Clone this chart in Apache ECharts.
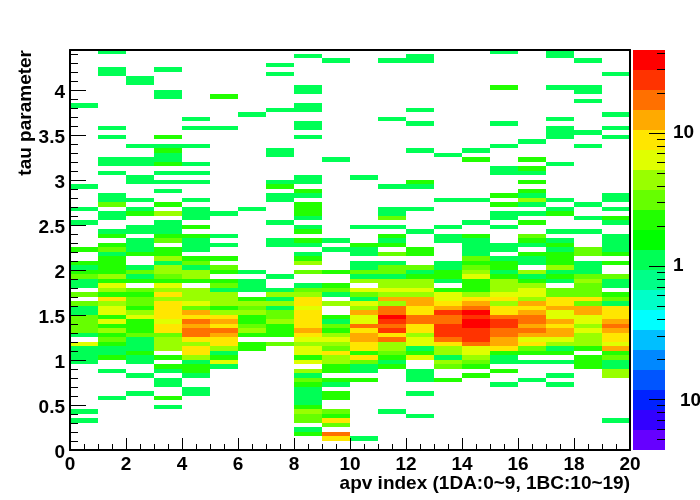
<!DOCTYPE html>
<html><head><meta charset="utf-8">
<style>html,body{margin:0;padding:0;background:#fff}#c{width:700px;height:500px}</style>
<script src="https://cdn.jsdelivr.net/npm/echarts@6/dist/echarts.min.js"></script>
</head><body><div id="c"></div>
<script>
// Each column: [tau bin index, count] pairs; tau bin width = yBinWidth
const col00=[[6,1],[8,1],[19,1],[20,1],[21,1],[22,1],[23,6],[25,1],[26,3],[27,3],[28,3],[29,3],[30,1],[31,1],[32,3],[34,3],[36,1],[37,1],[38,3],[39,2],[40,1],[41,2],[44,2],[50,1],[53,1],[58,1],[76,1]];
const col01=[[11,1],[17,1],[20,2],[21,1],[22,1],[23,2],[24,3],[25,2],[26,4],[27,2],[28,6],[29,2],[30,6],[31,6],[32,4],[33,9],[34,2],[35,4],[36,6],[37,2],[38,4],[39,2],[40,2],[41,2],[42,2],[43,1],[44,3],[45,2],[47,2],[48,1],[51,1],[52,1],[54,3],[55,1],[56,1],[61,1],[63,1],[64,1],[69,1],[71,1],[83,1],[84,1],[88,1]];
const col02=[[12,1],[16,1],[19,1],[20,1],[21,2],[22,1],[23,1],[24,1],[25,3],[26,2],[27,2],[28,2],[29,6],[30,4],[31,2],[32,3],[33,3],[34,2],[35,3],[37,2],[38,1],[39,3],[40,1],[43,2],[44,1],[45,1],[46,1],[48,1],[49,1],[52,2],[53,1],[55,1],[59,1],[60,1],[63,1],[64,1],[67,1],[81,1],[82,1]];
const col03=[[9,1],[11,2],[14,1],[15,1],[17,1],[18,2],[20,2],[22,4],[23,4],[24,4],[25,3],[26,9],[27,9],[28,6],[29,9],[30,9],[31,9],[32,9],[33,4],[34,9],[35,4],[36,6],[37,2],[38,3],[39,4],[40,4],[41,1],[42,4],[43,2],[44,2],[46,3],[47,2],[48,1],[49,1],[50,1],[52,4],[54,2],[57,1],[59,1],[61,1],[63,2],[64,1],[65,1],[66,2],[67,1],[69,2],[78,1],[79,1],[84,1]];
const col04=[[12,1],[13,1],[16,1],[17,2],[18,2],[19,1],[20,4],[21,9],[22,9],[23,4],[24,9],[25,17],[26,17],[27,12],[28,17],[29,9],[30,12],[31,3],[32,6],[33,4],[34,4],[35,4],[37,2],[38,4],[39,4],[40,1],[41,3],[42,2],[44,1],[45,1],[46,1],[47,2],[49,2],[51,1],[52,1],[53,1],[55,1],[59,1],[61,1],[63,1],[67,1],[71,1],[73,1]];
const col05=[[18,1],[19,6],[20,2],[21,1],[22,4],[23,9],[24,9],[25,12],[26,17],[27,9],[28,12],[29,9],[30,4],[31,2],[32,4],[33,4],[34,4],[35,1],[36,3],[37,2],[39,2],[40,3],[42,2],[45,1],[47,1],[52,1],[71,1],[78,2]];
const col06=[[22,2],[23,2],[25,2],[26,4],[27,3],[28,2],[29,2],[30,4],[31,3],[32,4],[33,2],[35,1],[36,1],[37,1],[39,1],[53,1],[74,1]];
const col07=[[23,3],[25,2],[26,2],[27,2],[28,4],[29,3],[30,3],[31,1],[32,4],[33,1],[34,4],[35,1],[38,1],[45,1],[46,1],[50,1],[55,1],[56,1],[58,2],[59,1],[65,1],[66,1],[75,1],[83,1],[85,1]];
const col08=[[3,2],[4,1],[6,3],[7,3],[8,4],[9,2],[10,1],[11,1],[12,1],[13,1],[14,2],[15,3],[16,1],[17,4],[19,6],[20,2],[21,6],[22,6],[23,4],[24,6],[25,9],[26,12],[27,9],[28,9],[29,9],[30,9],[31,6],[32,9],[33,9],[34,4],[35,3],[36,1],[39,3],[41,4],[42,2],[43,1],[45,1],[46,2],[48,2],[49,1],[51,1],[52,2],[53,2],[54,2],[56,1],[57,2],[59,1],[60,1],[69,1],[71,1],[72,1],[75,1],[76,1],[79,1],[80,1],[87,1]];
const col09=[[2,9],[3,17],[5,3],[6,9],[7,2],[8,3],[11,2],[12,2],[14,1],[15,2],[17,2],[18,2],[19,4],[20,4],[21,9],[22,3],[23,4],[24,6],[25,4],[26,2],[27,3],[28,1],[29,2],[32,4],[34,1],[35,3],[36,2],[39,2],[44,1],[46,1],[64,1],[86,1]];
const col10=[[2,1],[15,2],[17,1],[18,1],[19,3],[20,9],[21,2],[22,9],[23,9],[24,12],[25,12],[26,9],[27,17],[28,6],[29,6],[30,12],[31,4],[32,6],[33,1],[34,3],[35,6],[37,4],[38,1],[39,3],[40,1],[41,1],[43,1],[44,1],[45,2],[49,1],[60,1]];
const col11=[[8,1],[18,2],[19,1],[20,2],[21,3],[22,4],[23,4],[24,17],[25,9],[26,24],[27,17],[28,24],[29,32],[30,17],[31,17],[32,4],[33,12],[34,4],[35,6],[36,4],[37,4],[38,1],[39,3],[40,3],[41,1],[43,3],[45,2],[46,1],[47,2],[49,1],[51,3],[52,1],[53,1],[58,1],[73,1],[86,1]];
const col12=[[7,1],[12,1],[15,1],[16,1],[17,1],[20,6],[21,2],[22,1],[23,6],[24,6],[25,4],[26,9],[27,9],[28,17],[29,17],[30,9],[31,9],[32,12],[33,12],[34,4],[35,6],[36,4],[37,4],[38,2],[39,1],[40,3],[43,2],[44,2],[48,1],[53,1],[58,1],[59,2],[66,1],[72,1],[75,1],[86,1],[87,1]];
const col13=[[15,2],[18,3],[19,4],[20,1],[21,4],[22,4],[23,9],[24,17],[25,24],[26,24],[27,24],[28,17],[29,17],[30,24],[31,12],[32,9],[33,6],[34,6],[35,2],[37,1],[38,2],[39,2],[40,1],[41,1],[46,1],[47,1],[49,1],[55,1],[65,1]];
const col14=[[16,2],[18,2],[19,3],[20,4],[21,6],[22,6],[23,17],[24,24],[25,24],[26,24],[27,32],[28,32],[29,24],[30,32],[31,17],[32,12],[33,9],[34,4],[35,2],[36,2],[37,2],[38,6],[39,4],[40,3],[41,2],[42,3],[43,1],[44,1],[45,1],[46,1],[47,2],[50,1],[55,1],[64,2],[66,1]];
const col15=[[14,1],[17,2],[19,1],[20,1],[21,2],[22,9],[23,12],[24,12],[25,17],[26,17],[27,24],[28,24],[29,17],[30,9],[31,9],[32,4],[33,9],[34,6],[35,4],[36,4],[37,4],[38,2],[39,1],[40,2],[41,2],[42,1],[44,1],[45,1],[49,1],[51,1],[52,1],[54,2],[56,2],[61,1],[62,1],[67,1],[72,1],[80,2],[88,1]];
const col16=[[15,1],[19,1],[21,2],[22,3],[23,9],[24,6],[25,12],[26,17],[27,12],[28,17],[29,17],[30,12],[31,9],[32,12],[33,4],[34,6],[35,6],[36,4],[37,2],[38,1],[39,4],[41,1],[42,1],[43,2],[45,1],[46,2],[47,3],[50,2],[52,1],[54,1],[55,4],[56,1],[57,2],[59,2],[61,1],[62,2],[64,2],[68,1]];
const col17=[[14,1],[16,1],[19,1],[21,2],[22,1],[23,4],[24,6],[25,12],[26,12],[27,9],[28,12],[29,6],[30,6],[31,12],[32,9],[33,9],[34,3],[35,3],[37,1],[38,2],[39,1],[40,4],[41,2],[42,2],[43,2],[44,1],[45,2],[46,1],[48,1],[52,2],[53,1],[55,1],[63,1],[69,1],[70,1],[71,1],[73,1],[80,1],[87,1],[88,1]];
const col18=[[18,2],[19,2],[20,2],[22,2],[23,4],[24,4],[25,4],[26,6],[27,4],[28,6],[29,6],[30,12],[31,12],[32,3],[33,9],[34,3],[35,3],[36,3],[37,4],[38,3],[39,1],[40,1],[41,1],[43,3],[44,3],[48,1],[51,1],[54,1],[67,1],[70,1],[77,1],[79,1],[80,1],[86,1]];
const col19=[[6,1],[16,4],[17,4],[18,1],[19,1],[20,3],[21,2],[22,12],[23,6],[24,9],[25,9],[26,12],[27,17],[28,12],[29,9],[30,9],[31,9],[32,1],[33,3],[34,2],[36,1],[37,1],[38,3],[41,2],[43,2],[44,1],[45,1],[46,1],[47,1],[50,1],[51,2],[53,1],[55,1],[56,1],[69,1],[71,1],[74,1],[83,1]];
const columns=[col00,col01,col02,col03,col04,col05,col06,col07,col08,col09,col10,col11,col12,col13,col14,col15,col16,col17,col18,col19];
const yBinWidth=0.05;
const yMax=4.444;

const xName='apv index (1DA:0~9, 1BC:10~19)';
const yName='tau parameter';
const yMajorTicks=[0,0.5,1,1.5,2,2.5,3,3.5,4];
const yMinorTicks=[0.1,0.2,0.3,0.4,0.6,0.7,0.8,0.9,1.1,1.2,1.3,1.4,1.6,1.7,1.8,1.9,2.1,2.2,2.3,2.4,2.6,2.7,2.8,2.9,3.1,3.2,3.3,3.4,3.6,3.7,3.8,3.9,4.1,4.2,4.3,4.4];

// colour scale: 20 levels, edges on a log axis, bottom to top
const levelEdges=[0.0414,0.0585,0.0827,0.1169,0.1652,0.2335,0.33,0.4664,0.6592,0.9317,1.3168,1.861,2.631,3.718,5.255,7.428,10.5,14.84,20.97,29.64,41.9];
const levelColors=['#6600ff','#3300ff','#0022ff','#0055ff','#0088ff','#00bfff','#00ffff','#00ffc8','#00ff88','#00ff55','#00ff00','#22ff00','#66ff00','#99ff00','#e0ff00','#ffe600','#ffaa00','#ff7000','#ff3300','#ff0000'];
const zMajorTicks=[0.1,1,10];
const zMinorTicks=[0.05,0.06,0.07,0.08,0.09,0.2,0.3,0.4,0.5,0.6,0.7,0.8,0.9,2,3,4,5,6,7,8,9,20,30,40];

function colorOf(v){
  for(let i=0;i<levelColors.length;i++){ if(v<levelEdges[i+1]) return levelColors[i]; }
  return levelColors[levelColors.length-1];
}
const cells=[];
columns.forEach((col,x)=>col.forEach(p=>cells.push([x,p[0]*yBinWidth,p[1]])));
const barLevels=levelColors.map((c,i)=>[levelEdges[i],levelEdges[i+1],i]);
const zTickMarks=zMajorTicks.map(v=>[v,1]).concat(zMinorTicks.map(v=>[v,0]));

const black='#000';
const font='"Liberation Sans", Arial, sans-serif';
const fs=19;
const chart=echarts.init(document.getElementById('c'),null,{renderer:'canvas'});
chart.setOption({
  animation:false,
  backgroundColor:'#fff',
  grid:[
    {left:70,right:70,top:50,bottom:50,outerBoundsMode:'none'},
    {left:633,width:32,top:50,bottom:50,outerBoundsMode:'none'},
    {left:70,right:70,top:50,bottom:50,outerBoundsMode:'none'}
  ],
  xAxis:[
    {type:'value',gridIndex:0,min:0,max:20,interval:2,position:'bottom',name:xName,nameLocation:'end',nameGap:0,nameMoveOverlap:false,
     nameTextStyle:{color:black,fontFamily:font,fontWeight:'bold',fontSize:fs,align:'right',verticalAlign:'top',padding:[24,0,0,0]},
     axisLine:{show:true,lineStyle:{color:black,width:2}},
     axisTick:{show:true,inside:true,length:12,lineStyle:{color:black,width:1}},
     minorTick:{show:true,splitNumber:4,length:6,lineStyle:{color:black,width:1}},
     axisLabel:{color:black,fontFamily:font,fontWeight:'bold',fontSize:fs,margin:5},
     splitLine:{show:false},minorSplitLine:{show:false},z:5},
    {type:'value',gridIndex:0,min:0,max:20,position:'top',axisLine:{show:true,onZero:false,lineStyle:{color:black,width:2}},
     axisTick:{show:false},axisLabel:{show:false},splitLine:{show:false},z:5},
    {type:'value',gridIndex:1,min:0,max:1,show:false},
    {type:'value',gridIndex:2,min:0,max:20,show:false}
  ],
  yAxis:[
    {type:'value',gridIndex:0,min:0,max:yMax,position:'left',name:yName,nameLocation:'end',nameGap:0,nameRotate:90,nameMoveOverlap:false,
     nameTextStyle:{color:black,fontFamily:font,fontWeight:'bold',fontSize:fs,align:'right',verticalAlign:'bottom',padding:[0,0,35,0]},
     axisLine:{show:true,onZero:false,lineStyle:{color:black,width:2}},
     axisTick:{show:true,inside:true,length:16,customValues:yMajorTicks,lineStyle:{color:black,width:1}},
     axisLabel:{color:black,fontFamily:font,fontWeight:'bold',fontSize:fs,margin:5,customValues:yMajorTicks,
       formatter:v=>'{a|'+v+'}',
       rich:{a:{color:black,fontFamily:font,fontWeight:'bold',fontSize:fs,padding:[6,0,0,0]}}},
     splitLine:{show:false},z:5},
    {type:'value',gridIndex:0,min:0,max:yMax,position:'right',
     axisLine:{show:true,onZero:false,lineStyle:{color:black,width:2}},axisTick:{show:false},axisLabel:{show:false},splitLine:{show:false},z:5},
    {type:'log',gridIndex:1,min:levelEdges[0],max:levelEdges[20],position:'right',
     axisLine:{show:false},splitLine:{show:false},axisTick:{show:false},
     axisLabel:{color:black,fontFamily:font,fontWeight:'bold',fontSize:fs,margin:8,customValues:zMajorTicks,
       formatter:v=>v<0.5?'{s|10}':String(Math.round(v)),
       rich:{s:{color:black,fontFamily:font,fontWeight:'bold',fontSize:fs,padding:[4,0,0,7]}}},z:5},
    {type:'value',gridIndex:2,min:0,max:yMax,position:'left',
     axisLine:{show:false},axisLabel:{show:false},splitLine:{show:false},
     axisTick:{show:true,inside:true,length:8,customValues:yMinorTicks,lineStyle:{color:black,width:1}},z:5}
  ],
  series:[
    {type:'line',xAxisIndex:0,yAxisIndex:0,symbol:'none',silent:true,z:1,data:[[19.982,0.15],[19.982,yMax]],lineStyle:{color:'#e00000',width:1}},
    {type:'custom',xAxisIndex:0,yAxisIndex:0,clip:true,z:2,silent:true,data:cells,
     renderItem:(params,api)=>{
       const x=api.value(0),y=api.value(1),v=api.value(2);
       const a=api.coord([x,y+yBinWidth]),b=api.coord([x+1,y]);
       const top=Math.round(a[1]),bot=Math.round(b[1]),l=Math.round(a[0]),r=Math.round(b[0]);
       return {type:'rect',shape:{x:l,y:top,width:r-l,height:bot-top},style:{fill:colorOf(v),stroke:null}};
     }},
    {type:'custom',xAxisIndex:2,yAxisIndex:2,clip:true,z:2,silent:true,data:barLevels,
     encode:{x:[],y:[0,1]},
     renderItem:(params,api)=>{
       const a=api.coord([0,api.value(1)]),b=api.coord([1,api.value(0)]);
       const top=Math.round(a[1]),bot=Math.round(b[1]);
       return {type:'rect',shape:{x:a[0],y:top,width:b[0]-a[0],height:bot-top},style:{fill:levelColors[api.value(2)],stroke:null}};
     }},
    {type:'custom',xAxisIndex:2,yAxisIndex:2,clip:false,z:3,silent:true,data:zTickMarks,
     encode:{x:[],y:0},
     renderItem:(params,api)=>{
       const p=api.coord([1,api.value(0)]);
       const y=Math.round(p[1])+0.5, len=api.value(1)?16:8;
       return {type:'line',shape:{x1:p[0]-len,y1:y,x2:p[0],y2:y},style:{stroke:black,lineWidth:1}};
     }}
  ]
});
</script></body></html>
